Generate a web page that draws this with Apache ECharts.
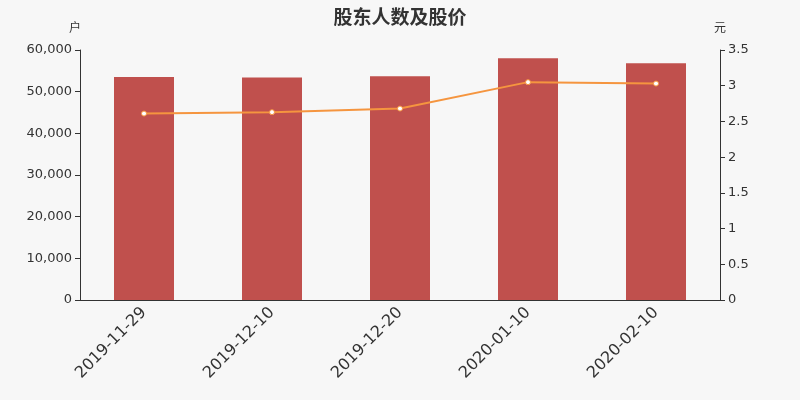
<!DOCTYPE html>
<html><head><meta charset="utf-8">
<script src="https://cdn.jsdelivr.net/npm/echarts@6/dist/echarts.min.js"></script>
<style>html,body{margin:0;padding:0;background:#f7f7f7}#c{width:800px;height:400px}</style>
</head><body><div id="c"></div>
<script>
var categories = ['2019-11-29','2019-12-10','2019-12-20','2020-01-10','2020-02-10'];
var holders = [53500, 53400, 53700, 58000, 56800];
var prices = [2.61, 2.63, 2.68, 3.05, 3.03];
var chart = echarts.init(document.getElementById('c'));
var F = 'DejaVu Sans, Noto Sans CJK SC';
chart.setOption({
  backgroundColor: '#f7f7f7',
  textStyle: {fontFamily: F},
  title: {text: '股东人数及股价', left: 'center', top: 2, textStyle: {fontSize: 19, fontWeight: 'bold', color: '#333', fontFamily: 'Noto Sans CJK SC'}},
  grid: {left: 80, right: 80, top: 50, bottom: 100},
  xAxis: {type: 'category', data: categories,
    axisLine: {lineStyle: {color: '#333'}}, axisTick: {lineStyle: {color: '#333'}},
    axisLabel: {rotate: 45, fontSize: 16, color: '#333', margin: 10, fontFamily: F}},
  yAxis: [
    {type: 'value', name: '户', min: 0, max: 60000, interval: 10000, nameTextStyle: {color: '#333', fontSize: 12, padding: [0, 0, 0, -10]},
     axisLine: {show: true, lineStyle: {color: '#333'}}, axisTick: {show: true}, splitLine: {show: false},
     axisLabel: {color: '#333', fontSize: 13, fontFamily: F, formatter: function(v){return v.toLocaleString('en-US');}}},
    {type: 'value', name: '元', min: 0, max: 3.5, interval: 0.5, nameTextStyle: {color: '#333', fontSize: 12, padding: [0, 0, 0, 0]},
     axisLine: {show: true, lineStyle: {color: '#333'}}, axisTick: {show: true}, splitLine: {show: false},
     axisLabel: {color: '#333', fontSize: 13, fontFamily: F}}
  ],
  series: [
    {type: 'bar', data: holders, barWidth: 60, itemStyle: {color: '#c0504d'}},
    {type: 'line', yAxisIndex: 1, data: prices, symbol: 'circle', symbolSize: 5,
     lineStyle: {color: '#f5953f', width: 2}, itemStyle: {color: '#fff', borderColor: '#f5953f', borderWidth: 1}}
  ]
});
</script></body></html>
